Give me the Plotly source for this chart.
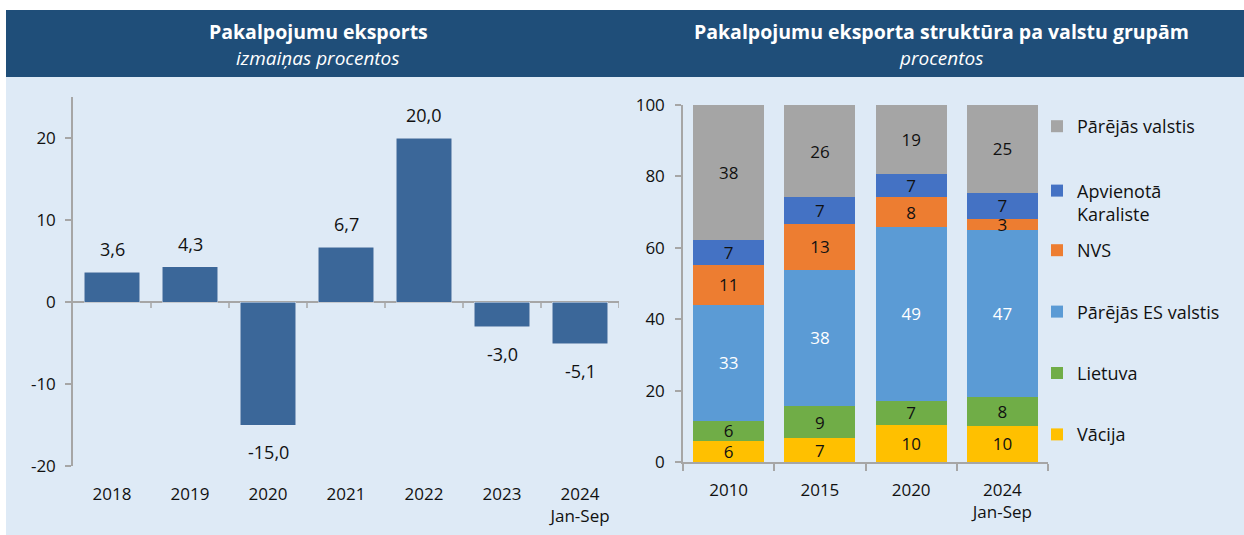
import plotly.graph_objects as go

# ---------------- data ----------------
years_left = ["2018", "2019", "2020", "2021", "2022", "2023", "2024<br>Jan-Sep"]
change_pct = [3.6, 4.3, -15.0, 6.7, 20.0, -3.0, -5.1]
left_tickvals = [-20, -10, 0, 10, 20]
left_ticktext = ["-20", "-10", "0", "10", "20"]

years_right = ["2010", "2015", "2020", "2024<br>Jan-Sep"]
vacija = [5.9, 6.6, 10.4, 10.1]
lietuva = [5.6, 9.2, 6.8, 8.0]
es_other = [32.6, 37.9, 48.7, 46.8]
nvs = [11.2, 13.1, 8.2, 3.2]
uk = [7.0, 7.4, 6.6, 7.3]
other = [37.7, 25.8, 19.3, 24.6]

series_names = ["Vācija", "Lietuva", "Pārējās ES valstis", "NVS",
                "Apvienotā<br>Karaliste", "Pārējās valstis"]
series_values = [vacija, lietuva, es_other, nvs, uk, other]
series_colors = ["#FFC000", "#70AD47", "#5B9BD5", "#ED7D31", "#4472C4", "#A5A5A5"]
text_colors = ["#111111", "#111111", "#FFFFFF", "#111111", "#111111", "#111111"]
legend_of = ["legend2", "legend2", "legend2", "legend2", "legend", "legend"]
legend_rank = [6, 5, 4, 3, 2, 1]

# ---------------- layout helpers ----------------
W, H = 1244, 535
def px(x):
    return x / W
def py(y):
    return 1 - y / H

FONT = "Open Sans"
AXIS_COL = "#A6A6A6"
BG = "#DEEAF6"
HEAD = "#1F4E79"
BAR_LEFT = "#3B6799"

fig = go.Figure()

# left chart
fig.add_trace(go.Bar(
    x=years_left, y=change_pct, marker_color=BAR_LEFT, width=0.71,
    xaxis="x", yaxis="y", showlegend=False, hoverinfo="skip",
))

# right chart
for name, vals, col, tcol, lg, rk in zip(series_names, series_values, series_colors,
                                          text_colors, legend_of, legend_rank):
    fig.add_trace(go.Bar(
        x=years_right, y=vals, name=name, marker_color=col, width=0.78,
        marker_line_width=0,
        texttemplate="%{y:.0f}", textposition="inside", insidetextanchor="middle",
        textangle=0, constraintext="none",
        textfont=dict(family=FONT, size=17, color=tcol),
        xaxis="x2", yaxis="y2", legend=lg, legendgroup=name, legendrank=rk,
        hoverinfo="skip",
    ))

annotations = []
# data labels for left chart (x given as category index)
for i, v in enumerate(change_pct):
    annotations.append(dict(
        x=i, y=v, xref="x", yref="y", showarrow=False,
        text=f"{v:.1f}".replace(".", ","),
        yshift=23 if v >= 0 else -27,
        font=dict(family=FONT, size=18, color="#111111"),
    ))

# headers
def header(x, y, text, size):
    return dict(x=px(x), y=py(y), xref="paper", yref="paper", showarrow=False,
                xanchor="center", yanchor="middle", text=text,
                font=dict(family=FONT, size=size, color="white"))

annotations += [
    header(318, 31, "<b>Pakalpojumu eksports</b>", 19.5),
    header(318, 58, "<i>izmaiņas procentos</i>", 19),
    header(941, 31, "<b>Pakalpojumu eksporta struktūra pa valstu grupām</b>", 19.5),
    header(941, 58, "<i>procentos</i>", 19),
]

shapes = [
    dict(type="rect", xref="paper", yref="paper", x0=px(6), x1=1, y0=0, y1=py(10),
         fillcolor=BG, line_width=0, layer="below"),
    dict(type="rect", xref="paper", yref="paper", x0=px(6), x1=1, y0=py(77), y1=py(10),
         fillcolor=HEAD, line_width=0, layer="below"),
]
# category boundary ticks on the zero line of the left chart
for i in range(len(years_left)):
    shapes.append(dict(type="line", xref="x", yref="y", x0=i + 0.5, x1=i + 0.5,
                       ysizemode="pixel", yanchor=0, y0=0, y1=-6,
                       line=dict(color=AXIS_COL, width=1.5)))

tickfont = dict(family=FONT, size=17, color="#111111")
legfont = dict(family=FONT, size=18, color="#111111")

fig.update_layout(
    width=W, height=H,
    margin=dict(l=0, r=0, t=0, b=0, pad=0, autoexpand=False),
    paper_bgcolor="white", plot_bgcolor="rgba(0,0,0,0)",
    barmode="stack",
    separators=", ",
    uniformtext=dict(minsize=17, mode="show"),
    annotations=annotations, shapes=shapes,
    xaxis=dict(domain=[px(73), px(619)], anchor="y", type="category",
               range=[-0.5, len(years_left) - 0.5],
               showline=False, ticks="", showgrid=False, tickfont=tickfont,
               ticklabelstandoff=16, fixedrange=True),
    yaxis=dict(domain=[py(466), py(97)], anchor="x", range=[-20, 25],
               tickvals=left_tickvals, ticktext=left_ticktext,
               showline=True, linecolor=AXIS_COL, linewidth=1.5,
               ticks="outside", ticklen=6, tickcolor=AXIS_COL, tickwidth=1.5,
               zeroline=True, zerolinecolor=AXIS_COL, zerolinewidth=1.5,
               showgrid=False, tickfont=tickfont, ticklabelstandoff=6,
               fixedrange=True),
    xaxis2=dict(domain=[px(683), px(1048)], anchor="y2", type="category",
                showline=True, linecolor=AXIS_COL, linewidth=1.5,
                ticks="outside", tickson="boundaries", ticklen=7,
                tickcolor=AXIS_COL, tickwidth=1.5, showgrid=False,
                tickfont=tickfont, ticklabelstandoff=12, fixedrange=True),
    yaxis2=dict(domain=[py(462), py(105)], anchor="x2", range=[0, 100], dtick=20,
                showline=True, linecolor=AXIS_COL, linewidth=1.5,
                ticks="outside", ticklen=6, tickcolor=AXIS_COL, tickwidth=1.5,
                zeroline=False, showgrid=False, tickfont=tickfont,
                ticklabelstandoff=7, fixedrange=True),
    legend=dict(x=px(1037), xanchor="left", y=py(108), yanchor="top",
                traceorder="grouped", tracegroupgap=38, valign="top",
                bgcolor="rgba(0,0,0,0)", font=legfont),
    legend2=dict(x=px(1037), xanchor="left", y=py(232), yanchor="top",
                 traceorder="grouped", tracegroupgap=35, valign="top",
                 bgcolor="rgba(0,0,0,0)", font=legfont),
)

fig.write_html("out.html", config={"displayModeBar": False},
               post_script="document.body.style.margin='0';")
